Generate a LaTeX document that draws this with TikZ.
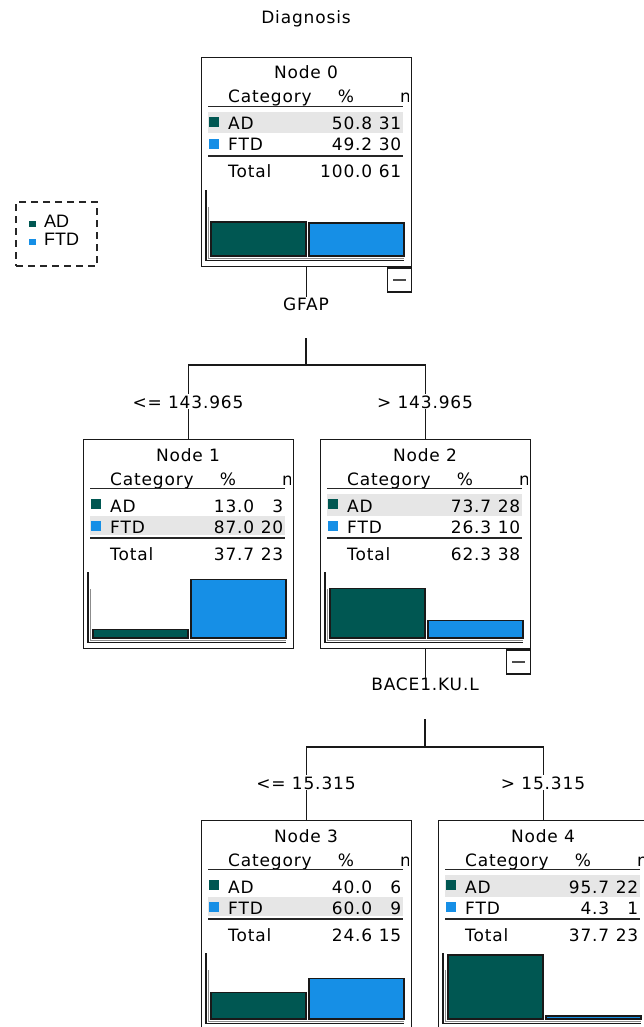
\documentclass[tikz,border=0pt]{standalone}
\usepackage{fontspec}
\newfontfamily\treefont{DejaVu Sans}[LetterSpace=5]
\newfontfamily\legendfont{Liberation Sans}
\definecolor{adcol}{RGB}{0,87,82}
\definecolor{ftdcol}{RGB}{22,143,230}
\definecolor{rowshade}{RGB}{230,230,230}

\tikzset{
  every node/.style={font=\treefont\fontsize{17}{20}\selectfont, text=black},
  nodebox/.style={draw=black!90, line width=1.35pt, minimum width=210pt,
    minimum height=209pt, anchor=north west, inner sep=0pt, fill=white},
  minusbox/.style={draw=black!90, line width=1.35pt, minimum width=24pt,
    minimum height=24pt, anchor=north east, inner sep=0pt, fill=white},
  txt/.style={inner sep=0pt, anchor=base west},
  num/.style={inner sep=0pt, anchor=base east},
  ctr/.style={inner sep=0pt, anchor=base},
  rule/.style={line width=1.9pt, draw=black!85},
  bar/.style={draw=black!90, line width=1.3pt},
  conn/.style={line width=1.5pt, draw=black!90},
  splitlabel/.style={inner sep=1pt, fill=white, anchor=base},
  legtxt/.style={font=\legendfont\fontsize{18}{20}\selectfont, inner sep=0pt, anchor=base west},
}

% frame, headings and axes of one tree node
% #1 name, #2 x, #3 y, #4 node number, #5 shaded row (1 = AD, 2 = FTD)
\newcommand\treecell[5]{%
  \node[nodebox] (#1) at (#2,#3) {};
  \begin{scope}[shift={(#1.north west)}]
    \ifnum#5=1\relax
      \fill[rowshade] (7,55) rectangle (202,76.5);
    \else
      \fill[rowshade] (7,76.5) rectangle (202,96);
    \fi
    \node[ctr] (#1-title) at (105,22) {Node #4};
    \node[txt] (#1-cat) at (27,46) {Category};
    \node[ctr] (#1-pcthead) at (145,46) {\%};
    \begin{scope}
      \clip (0,0) rectangle (207.5,209);
      \node[txt] (#1-nhead) at (199,46) {n};
    \end{scope}
    \draw[rule] (7,49.5) -- (202,49.5);
    \draw[rule] (7,99) -- (202,99);
    \fill[adcol] (8,60) rectangle (18,70);
    \fill[ftdcol] (8,82) rectangle (18,92);
    \node[txt] (#1-ad) at (27,73) {AD};
    \node[txt] (#1-ftd) at (27,94) {FTD};
    \node[txt] (#1-total) at (27,121) {Total};
    \draw[black!45, line width=1.1pt] (7.5,150) -- (7.5,201.2) -- (203,201.2);
    \draw[black!90, line width=1.3pt] (5,133) -- (5,203.6) -- (203,203.6);
  \end{scope}}

% figures and bars of one tree node
% #1 name, #2 AD %, #3 AD n, #4 FTD %, #5 FTD n, #6 total %, #7 total n
\newcommand\treestats[7]{%
  \begin{scope}[shift={(#1.north west)}]
    \node[num] (#1-adpct) at (171.5,73) {#2};
    \node[num] (#1-adn) at (200.5,73) {#3};
    \node[num] (#1-ftdpct) at (171.5,94) {#4};
    \node[num] (#1-ftdn) at (200.5,94) {#5};
    \node[num] (#1-totpct) at (171.5,121) {#6};
    \node[num] (#1-totn) at (200.5,121) {#7};
    \draw[bar, fill=adcol] (10,199) rectangle (105,{199-0.67*#2});
    \draw[bar, fill=ftdcol] (108,199) rectangle (203,{199-0.67*#4});
  \end{scope}}

\begin{document}
\begin{tikzpicture}[x=1pt, y=-1pt]
  \useasboundingbox (0,0) rectangle (644,1027);
  \fill[white] (0,0) rectangle (644,1027);

  \node[ctr] (title) at (306,24) {Diagnosis};

  % legend
  \node[draw=black!85, dash pattern=on 7pt off 5pt, line width=1.3pt,
        minimum width=81pt, minimum height=64pt, inner sep=0pt] (legend) at (56.5,234) {};
  \fill[adcol] (29,220.5) rectangle (35.5,227);
  \node[legtxt] (leg-ad) at (44,227) {AD};
  \fill[ftdcol] (29,238.5) rectangle (35.5,245);
  \node[legtxt] (leg-ftd) at (44,245.5) {FTD};

  % tree nodes
  \treecell{n0}{201}{57}{0}{1}
  \treestats{n0}{50.8}{31}{49.2}{30}{100.0}{61}
  \treecell{n1}{83}{439}{1}{2}
  \treestats{n1}{13.0}{3}{87.0}{20}{37.7}{23}
  \treecell{n2}{320}{439}{2}{1}
  \treestats{n2}{73.7}{28}{26.3}{10}{62.3}{38}
  \treecell{n3}{201}{820}{3}{2}
  \treestats{n3}{40.0}{6}{60.0}{9}{24.6}{15}
  \treecell{n4}{438}{820}{4}{1}
  \treestats{n4}{95.7}{22}{4.3}{1}{37.7}{23}

  % collapse buttons
  \node[minusbox] (m0) at (n0.south east) {};
  \draw[line width=1.6pt, black!70] ([xshift=-6.5pt]m0.center) -- ([xshift=6.5pt]m0.center);
  \node[minusbox] (m2) at (n2.south east) {};
  \draw[line width=1.6pt, black!70] ([xshift=-6.5pt]m2.center) -- ([xshift=6.5pt]m2.center);

  % first split: GFAP
  \node[ctr] (gfap) at (306,310) {GFAP};
  \draw[conn] (n0.south) -- (n0.south |- gfap.north);
  \coordinate (s0) at (306,338);
  \draw[conn] (s0) -- ++(0,27) -| (n1.north);
  \draw[conn] (s0) ++(0,27) -| (n2.north);
  \node[splitlabel] (c1) at (188,408) {<= 143.965};
  \node[splitlabel] (c2) at (425,408) {> 143.965};

  % second split: BACE1.KU.L
  \node[ctr] (bace) at (425,690.5) {BACE1.KU.L};
  \draw[conn] (n2.south) -- (n2.south |- bace.north);
  \coordinate (s2) at (425,719);
  \draw[conn] (s2) -- ++(0,28) -| (n3.north);
  \draw[conn] (s2) ++(0,28) -| (n4.north);
  \node[splitlabel] (c3) at (306,789) {<= 15.315};
  \node[splitlabel] (c4) at (543,789) {> 15.315};
\end{tikzpicture}
\end{document}
